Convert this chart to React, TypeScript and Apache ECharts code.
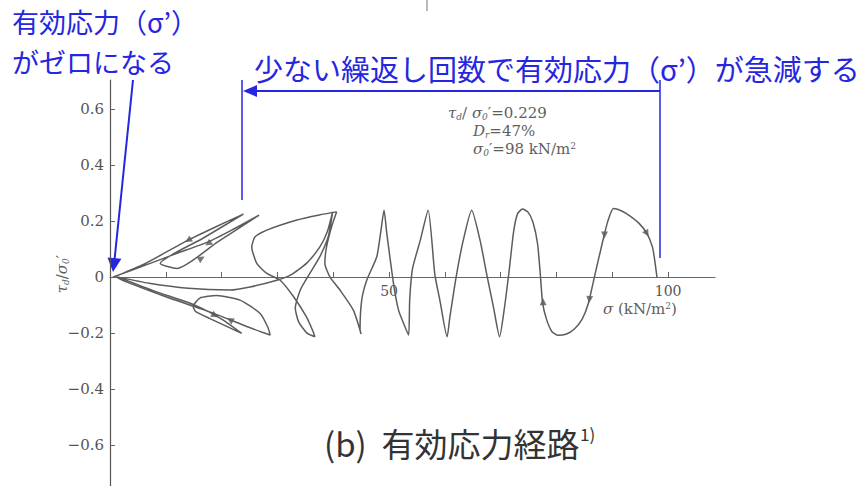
import React, { useEffect, useRef } from "react";
import * as echarts from "echarts";

// effective stress path (sigma' in kN/m2, tau_d/sigma0')
const pathSigma = [
  98.0, 97.6, 97.2, 96.2, 94.8, 93.2, 91.6, 90.2, 89.2, 88.4, 86.9, 85.7, 84.6, 83.2, 81.8, 80.3,
  79.2, 78.2, 77.5, 77.1, 76.6, 75.8, 74.9, 73.9, 73.0, 72.3, 71.5, 70.6, 69.8, 68.7, 67.5, 66.3,
  64.8, 63.3, 62.1, 60.9, 60.4, 59.1, 58.2, 57.0, 55.6, 54.2, 53.7, 53.5, 52.7, 51.7, 50.8, 49.6,
  49.1, 48.5, 47.8, 46.0, 45.1, 44.8, 45.0, 43.6, 41.2, 39.4, 38.5, 38.8, 39.7, 40.6, 37.5, 33.5,
  28.1, 26.0, 25.4, 26.3, 28.1, 30.5, 32.9, 35.2, 36.4, 36.7, 35.3, 33.8, 33.2, 34.1, 35.8, 37.6,
  39.1, 39.9, 38.9, 37.6, 35.2, 32.3, 29.9, 25.1, 21.5, 14.0, 7.0, 1.5, 8.0, 15.2, 20.0, 23.6,
  17.9, 15.3, 14.9, 16.1, 19.1, 23.3, 26.9, 28.3, 28.7, 25.0, 18.0, 10.0, 4.0, 1.2, 6.0, 14.0,
  19.0, 23.9, 16.5, 9.0, 12.0, 19.3, 26.7, 21.8, 17.6, 12.0, 6.0, 0.5
];
const pathTau = [
  0.0, 0.06, 0.107, 0.156, 0.192, 0.218, 0.237, 0.245, 0.2, 0.138, 0.01, -0.094, -0.15, -0.185, -0.203, -0.208,
  -0.195, -0.15, -0.09, 0.01, 0.12, 0.195, 0.232, 0.243, 0.225, 0.16, 0.02, -0.12, -0.213, -0.106, 0.01, 0.132,
  0.239, 0.132, 0.01, -0.142, -0.213, -0.082, 0.01, 0.239, 0.132, 0.03, -0.08, -0.207, -0.17, -0.118, -0.023, 0.156,
  0.239, 0.16, 0.073, -0.011, -0.082, -0.19, -0.203, -0.118, -0.046, 0.001, 0.049, 0.108, 0.18, 0.233, 0.222, 0.204,
  0.168, 0.144, 0.108, 0.049, 0.013, -0.011, -0.07, -0.142, -0.195, -0.213, -0.2, -0.16, -0.11, -0.046, 0.013, 0.073,
  0.144, 0.233, 0.16, 0.108, 0.049, 0.007, -0.011, -0.035, -0.046, -0.04, -0.022, 0.0, -0.05, -0.1, -0.15, -0.201,
  -0.148, -0.122, -0.105, -0.075, -0.066, -0.082, -0.13, -0.18, -0.207, -0.18, -0.125, -0.07, -0.025, 0.0, 0.045, 0.132,
  0.18, 0.225, 0.137, 0.049, 0.031, 0.126, 0.221, 0.168, 0.126, 0.085, 0.04, 0.0
];

// direction arrows drawn on the path
const arrowSigma = [96.2, 88.6, 85.9, 77.6, 14.0, 17.6, 16.4, 18.8, 21.5];
const arrowTau = [0.156, 0.15, -0.08, -0.088, 0.132, 0.12, 0.067, -0.137, -0.1525];
const arrowRotate = [-150, 180, 175, 0, 120, 125, -60, -120, 60];

const yTickValues = [-0.6, -0.4, -0.2, 0, 0.2, 0.4, 0.6];
const xTickValues = [10, 20, 30, 40, 50, 60, 70, 80, 90, 100];
const xLabelValues = [50, 100];

const X_MIN = 0;
const X_MAX = 108.4;
const Y_MIN = -0.746;
const Y_MAX = 0.704;

const BLUE = "#2626e0";
const CJK = "'Noto Sans CJK JP', 'Noto Sans', sans-serif";
const SERIF = "'DejaVu Serif', 'Liberation Serif', serif";
const GRAY = "#5e5e5e";

const mathRich = {
  i: { fontFamily: SERIF, fontStyle: "italic", fontSize: 15, fill: GRAY },
  n: { fontFamily: SERIF, fontSize: 15, fill: GRAY },
  s: { fontFamily: SERIF, fontStyle: "italic", fontSize: 9, fill: GRAY, padding: [7, 0, 0, 0] },
  p: { fontFamily: SERIF, fontSize: 9, fill: GRAY, padding: [0, 0, 7, 0] },
};

export default function App() {
  const ref = useRef<HTMLDivElement>(null);

  useEffect(() => {
    const chart = echarts.init(ref.current!, null, { renderer: "svg" });
    const pathData = pathSigma.map((s, i) => [s, pathTau[i]]);
    const arrowData = arrowSigma.map((s, i) => ({
      value: [s, arrowTau[i]],
      symbolRotate: arrowRotate[i],
    }));

    const option: any = {
      animation: false,
      backgroundColor: "#ffffff",
      grid: [
        { left: 110, right: 147, top: 80, bottom: 0, containLabel: false },
        // upper half only: its bottom edge is the sigma axis at tau = 0
        { left: 110, right: 147, top: 80, bottom: 209, containLabel: false },
      ],
      xAxis: [
        { type: "value", gridIndex: 0, min: X_MIN, max: X_MAX, show: false },
        {
          type: "value",
          gridIndex: 1,
          min: X_MIN,
          max: X_MAX,
          position: "bottom",
          axisLine: { show: true, onZero: false, lineStyle: { color: "#666", width: 1.2 } },
          axisTick: {
            show: true,
            customValues: xTickValues,
            length: 5,
            inside: true,
            lineStyle: { color: "#666" },
          },
          axisLabel: {
            customValues: xLabelValues,
            fontFamily: SERIF,
            fontSize: 14,
            color: "#555",
            margin: 7,
          },
          splitLine: { show: false },
        },
      ],
      yAxis: [
        {
          type: "value",
          gridIndex: 0,
          min: Y_MIN,
          max: Y_MAX,
          axisLine: { show: true, onZero: false, lineStyle: { color: "#555", width: 1.2 } },
          axisTick: {
            show: true,
            customValues: yTickValues,
            inside: true,
            length: 5,
            lineStyle: { color: "#666" },
          },
          axisLabel: {
            customValues: yTickValues,
            fontFamily: SERIF,
            fontSize: 15,
            color: "#555",
            margin: 6,
            formatter: (v: number) =>
              v === 0 ? "0" : v < 0 ? "\u2212" + Math.abs(v).toFixed(1) : v.toFixed(1),
          },
          splitLine: { show: false },
        },
        { type: "value", gridIndex: 1, min: 0, max: Y_MAX, show: false },
      ],
      series: [
        {
          type: "line",
          xAxisIndex: 0,
          yAxisIndex: 0,
          data: pathData,
          showSymbol: false,
          smooth: 0.2,
          lineStyle: { color: "#5c5c5c", width: 1.5 },
          silent: true,
        },
        {
          type: "scatter",
          xAxisIndex: 0,
          yAxisIndex: 0,
          data: arrowData,
          symbol: "triangle",
          symbolSize: 7,
          itemStyle: { color: "#555" },
          silent: true,
        },
      ],
      graphic: [
        // small mark at the top
        { type: "line", shape: { x1: 427, y1: 0, x2: 427, y2: 11 }, style: { stroke: "#777", lineWidth: 1 } },
        // top-left annotation
        {
          type: "text",
          x: 12,
          y: 21,
          style: { text: "有効応力（σ’）", fontFamily: CJK, fontSize: 27, fill: BLUE, textVerticalAlign: "middle" },
        },
        {
          type: "text",
          x: 12,
          y: 61,
          style: { text: "がゼロになる", fontFamily: CJK, fontSize: 27, fill: BLUE, textVerticalAlign: "middle" },
        },
        // left arrow to origin
        { type: "line", shape: { x1: 133, y1: 80, x2: 114.6, y2: 259 }, style: { stroke: BLUE, lineWidth: 2 } },
        {
          type: "polygon",
          shape: { points: [[113, 272], [121.4, 258.8], [107.5, 257.4]] },
          style: { fill: BLUE },
        },
        // top-right annotation
        {
          type: "text",
          x: 254,
          y: 68,
          style: {
            text: "少ない繰返し回数で有効応力（σ’）が急減する",
            fontFamily: CJK,
            fontSize: 29,
            fill: BLUE,
            textVerticalAlign: "middle",
          },
        },
        { type: "line", shape: { x1: 660, y1: 91, x2: 252, y2: 91 }, style: { stroke: BLUE, lineWidth: 2 } },
        { type: "polygon", shape: { points: [[243, 91], [257, 85], [257, 97]] }, style: { fill: BLUE } },
        { type: "line", shape: { x1: 242, y1: 80, x2: 242, y2: 200 }, style: { stroke: BLUE, lineWidth: 1.5 } },
        { type: "line", shape: { x1: 660, y1: 80, x2: 660, y2: 258 }, style: { stroke: BLUE, lineWidth: 1.5 } },
        // test conditions
        {
          type: "text",
          x: 448,
          y: 113,
          style: { text: "{i|τ}{s|d}{n|/ }{i|σ}{s|0}{n|′=0.229}", textVerticalAlign: "middle", rich: mathRich },
        },
        {
          type: "text",
          x: 473,
          y: 131,
          style: { text: "{i|D}{s|r}{n|=47%}", textVerticalAlign: "middle", rich: mathRich },
        },
        {
          type: "text",
          x: 473,
          y: 149,
          style: { text: "{i|σ}{s|0}{n|′=98 kN/m}{p|2}", textVerticalAlign: "middle", rich: mathRich },
        },
        // y axis name
        {
          type: "text",
          x: 62,
          y: 274,
          rotation: Math.PI / 2,
          style: {
            text: "{i|τ}{s|d}{n|/}{i|σ}{s|0}{n|′}",
            textAlign: "center",
            textVerticalAlign: "middle",
            rich: mathRich,
          },
        },
        // x axis name
        {
          type: "text",
          x: 603,
          y: 309,
          style: { text: "{i|σ}{n| (kN/m}{p|2}{n|)}", textVerticalAlign: "middle", rich: mathRich },
        },
        // caption
        {
          type: "text",
          x: 324,
          y: 443,
          style: { text: "(b)  有効応力経路", fontFamily: CJK, fontSize: 33, fill: "#333", textVerticalAlign: "middle" },
        },
        {
          type: "text",
          x: 580,
          y: 433,
          style: { text: "1)", fontFamily: CJK, fontSize: 17, fill: "#333", textVerticalAlign: "middle" },
        },
      ],
    };

    chart.setOption(option);
    return () => chart.dispose();
  }, []);

  return (
    <div
      ref={ref}
      style={{ position: "absolute", left: 0, top: 0, width: 862, height: 486, background: "#fff" }}
    />
  );
}
